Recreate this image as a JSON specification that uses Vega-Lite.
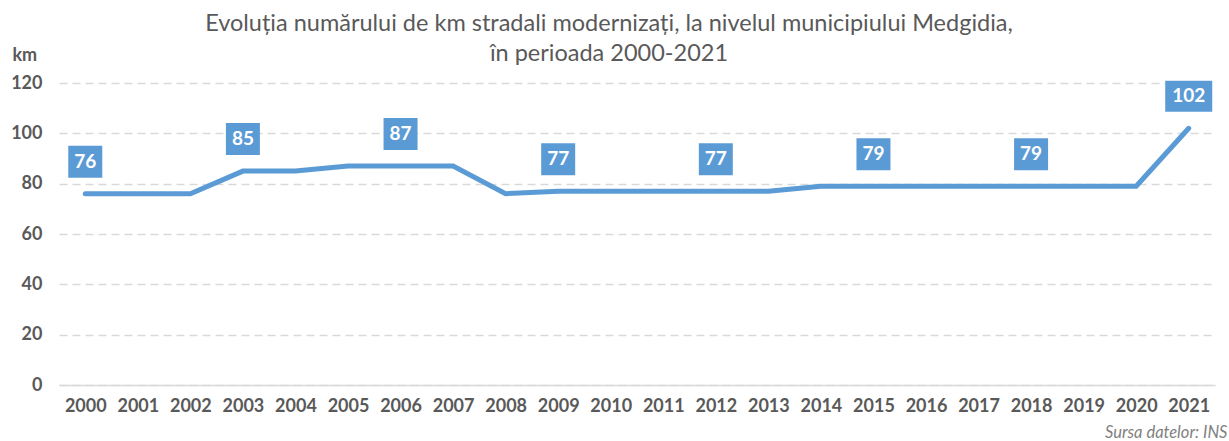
{
  "$schema": "https://vega.github.io/schema/vega-lite/v6.json",
  "width": 1156,
  "height": 302,
  "autosize": {"type": "none"},
  "padding": {"left": 59, "top": 83, "right": 14, "bottom": 56},
  "background": "white",
  "config": {
    "font": "Lato",
    "view": {"stroke": null}
  },
  "title": {
    "text": ["Evoluția numărului de km stradali modernizați, la nivelul municipiului Medgidia,", "în perioada 2000-2021"],
    "font": "Lato",
    "fontSize": 23.5,
    "fontWeight": "normal",
    "color": "#595959",
    "lineHeight": 30,
    "anchor": "middle",
    "frame": "group",
    "dx": -28,
    "offset": -19
  },
  "data": {
    "values": [
      {"an": "2000", "km": 76},
      {"an": "2001", "km": 76},
      {"an": "2002", "km": 76},
      {"an": "2003", "km": 85},
      {"an": "2004", "km": 85},
      {"an": "2005", "km": 87},
      {"an": "2006", "km": 87},
      {"an": "2007", "km": 87},
      {"an": "2008", "km": 76},
      {"an": "2009", "km": 77},
      {"an": "2010", "km": 77},
      {"an": "2011", "km": 77},
      {"an": "2012", "km": 77},
      {"an": "2013", "km": 77},
      {"an": "2014", "km": 79},
      {"an": "2015", "km": 79},
      {"an": "2016", "km": 79},
      {"an": "2017", "km": 79},
      {"an": "2018", "km": 79},
      {"an": "2019", "km": 79},
      {"an": "2020", "km": 79},
      {"an": "2021", "km": 102}
    ]
  },
  "encoding": {
    "x": {
      "field": "an",
      "type": "ordinal",
      "scale": {"type": "point", "padding": 0.5},
      "axis": {
        "title": "Sursa datelor: INS",
        "titleFontStyle": "italic",
        "titleFontWeight": "normal",
        "titleFontSize": 16.5,
        "titleColor": "#7f7f7f",
        "titleAnchor": "end",
        "titleAlign": "right",
        "titleBaseline": "bottom",
        "titleX": 1168,
        "titleY": 55,
        "labelAngle": 0,
        "labelFontSize": 18,
        "labelFontWeight": "bold",
        "labelColor": "#595959",
        "labelPadding": 12,
        "ticks": false,
        "domainColor": "#d9d9d9",
        "domainWidth": 1.5,
        "grid": false
      }
    },
    "y": {
      "field": "km",
      "type": "quantitative",
      "scale": {"domain": [0, 120]},
      "axis": {
        "values": [0, 20, 40, 60, 80, 100, 120],
        "title": "km",
        "titleAngle": 0,
        "titleAlign": "left",
        "titleBaseline": "middle",
        "titleX": -47,
        "titleY": -28,
        "titleFontSize": 18,
        "titleFontWeight": "bold",
        "titleColor": "#595959",
        "labelFontSize": 18,
        "labelFontWeight": "bold",
        "labelColor": "#595959",
        "labelPadding": 17,
        "ticks": false,
        "domain": false,
        "grid": true,
        "gridColor": "#d9d9d9",
        "gridWidth": 1.5,
        "gridDash": [8, 5]
      }
    }
  },
  "layer": [
    {
      "mark": {"type": "line", "color": "#5b9bd5", "strokeWidth": 5, "strokeCap": "round"}
    },
    {
      "transform": [{"filter": {"field": "an", "oneOf": ["2000", "2003", "2006", "2009", "2012", "2015", "2018"]}}],
      "mark": {
        "type": "point",
        "shape": "M-1,-0.94L1,-0.94L1,0.94L-1,0.94Z",
        "filled": true,
        "opacity": 1,
        "color": "#5b9bd5",
        "size": 1156,
        "yOffset": -32
      }
    },
    {
      "transform": [{"filter": {"field": "an", "equal": "2021"}}],
      "mark": {
        "type": "point",
        "shape": "M-1,-0.66L1,-0.66L1,0.66L-1,0.66Z",
        "filled": true,
        "opacity": 1,
        "color": "#5b9bd5",
        "size": 2209,
        "yOffset": -32
      }
    },
    {
      "transform": [{"filter": {"field": "an", "oneOf": ["2000", "2003", "2006", "2009", "2012", "2015", "2018", "2021"]}}],
      "mark": {
        "type": "text",
        "color": "white",
        "fontSize": 19,
        "fontWeight": "bold",
        "baseline": "middle",
        "align": "center",
        "dy": -32
      },
      "encoding": {"text": {"field": "km", "type": "quantitative"}}
    }
  ]
}
